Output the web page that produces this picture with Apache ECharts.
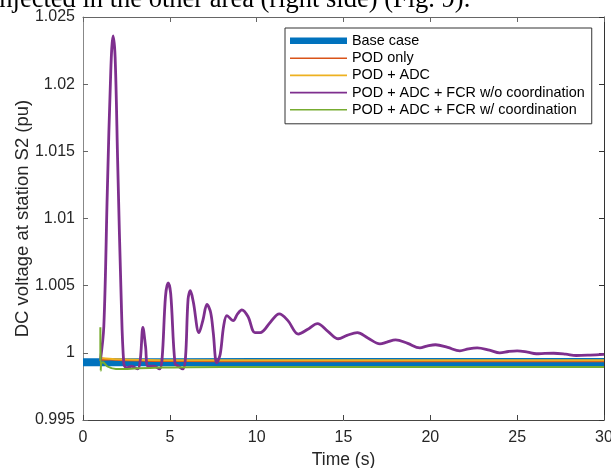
<!DOCTYPE html>
<html><head><meta charset="utf-8">
<script src="https://cdn.jsdelivr.net/npm/echarts@6/dist/echarts.min.js"></script>
<style>html,body{margin:0;padding:0;background:#fff}#c{width:611px;height:468px}</style>
</head><body><div id="c"></div>
<script>
const xTicks = [0, 5, 10, 15, 20, 25, 30];
const yTicks = [0.995, 1, 1.005, 1.01, 1.015, 1.02, 1.025];
const seriesNames = ['Base case', 'POD only', 'POD + ADC', 'POD + ADC + FCR w/o coordination', 'POD + ADC + FCR w/ coordination'];

const baseT = [0, 5, 10, 15, 20, 25, 30];
const baseV = [0.99930, 0.99930, 0.99931, 0.99931, 0.99931, 0.99931, 0.99931];

const podT = [1.0, 1.5, 2.5, 4, 8, 15, 30];
const podV = [0.99948, 0.99950, 0.99944, 0.99940, 0.99938, 0.99938, 0.99938];

const adcT = [1.0, 1.3, 2.0, 3.0, 5, 10, 30];
const adcV = [0.99962, 0.99958, 0.99952, 0.99948, 0.99945, 0.99945, 0.99945];

const fcrT = [1.0, 1.2, 1.4, 1.6, 1.73, 1.85, 2.0, 2.2, 2.35, 2.5, 2.8, 3.15, 3.3, 3.45, 3.6, 3.75, 4.1, 4.4, 4.55, 4.75, 4.9, 5.05, 5.3, 5.5, 5.75, 5.9, 6.05, 6.18, 6.35, 6.68, 6.9, 7.14, 7.35, 7.5, 7.7, 7.9, 8.1, 8.29, 8.65, 8.9, 9.15, 9.5, 9.9, 10.2, 10.8, 11.3, 11.8, 12.4, 13.0, 13.5, 14.1, 14.7, 15.2, 15.8, 16.4, 17.1, 17.5, 18.0, 18.7, 19.4, 19.8, 20.3, 21.0, 21.7, 22.2, 22.7, 23.4, 24.0, 24.5, 25.0, 25.6, 26.1, 26.6, 27.1, 27.8, 28.4, 29.2, 30];
const fcrV = [0.9994, 1.002, 1.012, 1.021, 1.0236, 1.022, 1.014, 1.004, 0.9992, 0.9989, 0.9990, 0.9988, 0.9995, 1.0019, 1.0005, 0.9990, 0.9990, 0.9988, 0.9995, 1.0042, 1.0052, 1.0044, 0.9992, 0.9990, 0.9988, 0.9996, 1.0040, 1.00462, 1.0038, 1.0015, 1.0024, 1.0036, 1.0030, 1.0015, 0.99925, 0.9999, 1.0020, 1.00277, 1.0024, 1.0029, 1.0032, 1.0027, 1.0015, 1.0015, 1.0023, 1.0029, 1.0024, 1.0014, 1.0018, 1.00217, 1.0016, 1.00105, 1.0013, 1.0015, 1.0011, 1.00067, 1.0008, 1.00097, 1.0007, 1.00037, 1.0005, 1.0006, 1.0004, 1.00015, 1.0003, 1.00037, 1.0002, 1.0000, 1.0001, 1.00015, 1.00005, 0.99993, 0.99996, 0.99997, 0.9999, 0.9998, 0.99983, 0.99988];

const coordT = [1.0, 1.0, 1.02, 1.05, 1.15, 1.4, 1.9, 2.5, 3.2, 4.5, 6, 10, 30];
const coordV = [0.9994, 1.0019, 0.99866, 0.9992, 0.99930, 0.9990, 0.99880, 0.9988, 0.99885, 0.9989, 0.99893, 0.99895, 0.99895];

function pairs(t, v) { return t.map((x, i) => [x, v[i]]); }

const colors = ['#0072BD', '#D95319', '#EDB120', '#7E2F8E', '#77AC30'];
const thinIcon = 'path://M0,0 L0.01,0 M0,6.2 L57,6.2 L57,7.8 L0,7.8 Z M0,14 L0.01,14';
const thickIcon = 'path://M0,0 L0.01,0 M0,3.5 L57,3.5 L57,10 L0,10 Z M0,14 L0.01,14';

const font = 'Arial, "Liberation Sans", sans-serif';
const chart = echarts.init(document.getElementById('c'));
chart.setOption({
  animation: false,
  backgroundColor: '#fff',
  grid: { left: 83, right: 7, top: 17, bottom: 48, containLabel: false, outerBoundsMode: 'none' },
  graphic: [{
    type: 'text', left: -8, top: -13,
    style: { text: 'injected in the other area (right side) (Fig. 9).', font: '26.5px "Liberation Serif", "Times New Roman", serif', fill: '#000' }
  }],
  legend: {
    left: 285, top: 28, orient: 'vertical',
    padding: [6, 7, 7, 5],
    backgroundColor: '#fff', borderColor: '#333', borderWidth: 1, borderRadius: 0,
    itemWidth: 57, itemHeight: 14, itemGap: 3.2,
    itemStyle: { borderWidth: 0 },
    textStyle: { fontFamily: font, fontSize: 14.4, color: '#000' },
    data: seriesNames.map((n, i) => ({ name: n, icon: i === 0 ? thickIcon : thinIcon }))
  },
  xAxis: [{
    type: 'value', min: 0, max: 30, interval: 5, position: 'bottom',
    name: 'Time (s)', nameLocation: 'middle', nameGap: 31, nameMoveOverlap: false,
    nameTextStyle: { fontFamily: font, fontSize: 17.5, color: '#262626' },
    axisLine: { show: true, onZero: false, lineStyle: { color: '#444', width: 1 } },
    axisTick: { show: true, inside: true, length: 5, lineStyle: { color: '#444' } },
    axisLabel: { fontFamily: font, fontSize: 16, color: '#262626', margin: 10,
      formatter: v => xTicks.includes(v) ? String(v) : '' },
    splitLine: { show: false }
  }, {
    type: 'value', min: 0, max: 30, interval: 5, position: 'top',
    axisLine: { show: true, onZero: false, lineStyle: { color: '#666', width: 1 } },
    axisTick: { show: true, inside: true, length: 5, lineStyle: { color: '#666' } },
    axisLabel: { show: false }, splitLine: { show: false }
  }],
  yAxis: [{
    type: 'value', min: 0.995, max: 1.025, interval: 0.005, position: 'left',
    name: 'DC voltage at station S2 (pu)', nameLocation: 'middle', nameGap: 51, nameMoveOverlap: false,
    nameTextStyle: { fontFamily: font, fontSize: 18.5, color: '#262626' },
    axisLine: { show: true, onZero: false, lineStyle: { color: '#888', width: 1 } },
    axisTick: { show: true, inside: true, length: 5, lineStyle: { color: '#666' } },
    axisLabel: { fontFamily: font, fontSize: 16, color: '#262626', margin: 8,
      formatter: v => { const m = yTicks.find(t => Math.abs(t - v) < 1e-9); return m === undefined ? '' : String(m); } },
    splitLine: { show: false }
  }, {
    type: 'value', min: 0.995, max: 1.025, interval: 0.005, position: 'right',
    axisLine: { show: true, onZero: false, lineStyle: { color: '#333', width: 1 } },
    axisTick: { show: true, inside: true, length: 5, lineStyle: { color: '#333' } },
    axisLabel: { show: false }, splitLine: { show: false }
  }],
  series: [
    { name: seriesNames[0], type: 'line', data: pairs(baseT, baseV), showSymbol: false, color: colors[0], lineStyle: { width: 8, color: colors[0] } },
    { name: seriesNames[1], type: 'line', data: pairs(podT, podV), showSymbol: false, color: colors[1], smooth: 0.3, lineStyle: { width: 2, color: colors[1] } },
    { name: seriesNames[2], type: 'line', data: pairs(adcT, adcV), showSymbol: false, color: colors[2], smooth: 0.3, lineStyle: { width: 2, color: colors[2] } },
    { name: seriesNames[3], type: 'line', data: pairs(fcrT, fcrV), showSymbol: false, color: colors[3], smooth: 0.35, lineStyle: { width: 2.8, color: colors[3] } },
    { name: seriesNames[4], type: 'line', data: pairs(coordT, coordV), showSymbol: false, color: colors[4], smooth: 0.2, lineStyle: { width: 2, color: colors[4] } }
  ]
});
</script></body></html>
